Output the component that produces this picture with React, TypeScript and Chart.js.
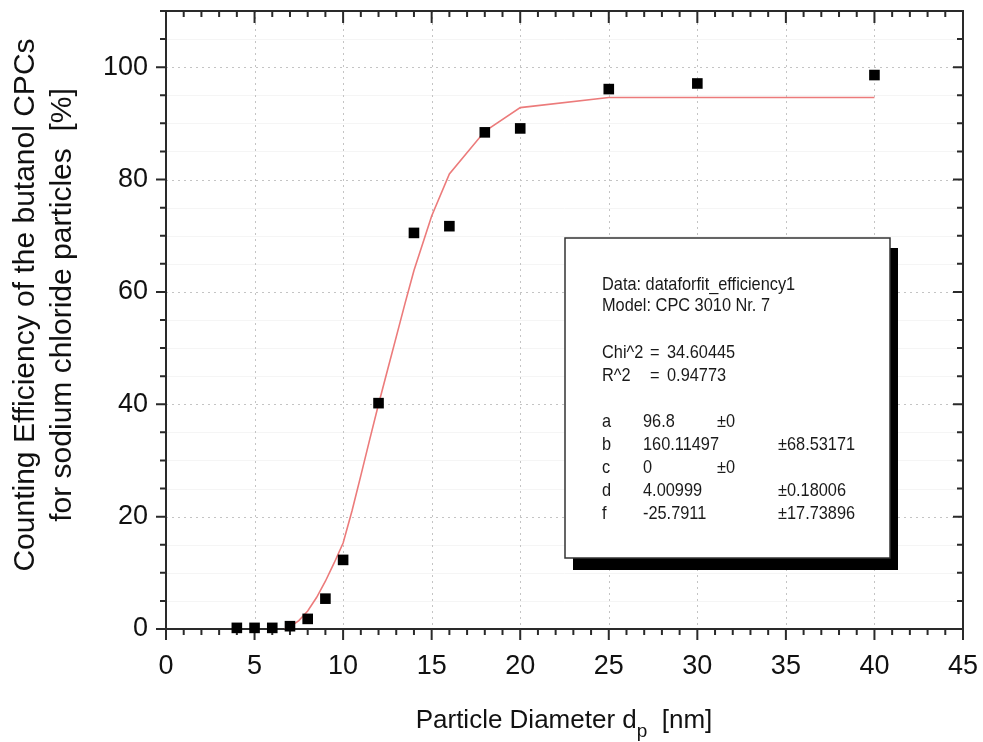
import React, { useEffect, useRef } from 'react';
import { Chart, registerables } from 'chart.js';
Chart.register(...registerables);

// measured data points (particle diameter in nm, counting efficiency in %)
const diameters = [4, 5, 6, 7, 8, 9, 10, 12, 14, 16, 18, 20, 25, 30, 40];
const efficiency = [0.2, 0.2, 0.2, 0.5, 1.8, 5.4, 12.3, 40.2, 70.5, 71.7, 88.4, 89.1, 96.1, 97.1, 98.6];

// fitted curve
const fitX = [6.7, 7, 7.5, 8, 8.5, 9, 9.5, 10, 10.5, 11, 11.5, 12, 12.5, 13, 13.5, 14, 15, 16, 18, 20, 25, 30, 40];
const fitY = [0, 0.4, 1.5, 3.2, 5.6, 8.5, 11.8, 15.3, 21, 27.3, 33.7, 40, 46, 52, 58, 63.8, 73.5, 81, 88.6, 92.8, 94.6, 94.6, 94.6];

// axis texts
const xTitleMain = 'Particle Diameter d';
const xTitleSub = 'p';
const xTitleUnit = '  [nm]';
const yTitleLines = ['Counting Efficiency of the butanol CPCs', 'for sodium chloride particles  [%]'];

// fit report
const fitHeader = ['Data: dataforfit_efficiency1', 'Model: CPC 3010 Nr. 7'];
const fitStatNames = ['Chi^2', 'R^2'];
const fitStatValues = ['34.60445', '0.94773'];
const paramNames = ['a', 'b', 'c', 'd', 'f'];
const paramValues = ['96.8', '160.11497', '0', '4.00999', '-25.7911'];
const paramErrors = ['±0', '±68.53171', '±0', '±0.18006', '±17.73896'];

const FONT = '"Liberation Sans", Arial, sans-serif';

const framePlugin = {
  id: 'originFrame',
  beforeDatasetsDraw(chart: any) {
    const { ctx, chartArea: a, scales } = chart;
    const xs = scales.x, ys = scales.y;
    ctx.save();
    // minor horizontal faint grid
    ctx.lineWidth = 1;
    for (let v = 5; v < 110; v += 5) {
      if (v % 20 === 0) continue;
      const y = Math.round(ys.getPixelForValue(v)) + 0.5;
      ctx.strokeStyle = '#f5f5f5';
      ctx.beginPath(); ctx.moveTo(a.left, y); ctx.lineTo(a.right, y); ctx.stroke();
    }
    // major dotted grid
    ctx.strokeStyle = '#c4c4c4';
    ctx.setLineDash([2, 4]);
    for (let v = 20; v <= 100; v += 20) {
      const y = Math.round(ys.getPixelForValue(v)) + 0.5;
      ctx.beginPath(); ctx.moveTo(a.left, y); ctx.lineTo(a.right, y); ctx.stroke();
    }
    for (let v = 5; v < 45; v += 5) {
      const x = Math.round(xs.getPixelForValue(v)) + 0.5;
      ctx.beginPath(); ctx.moveTo(x, a.top); ctx.lineTo(x, a.bottom); ctx.stroke();
    }
    ctx.setLineDash([]);

    // frame
    ctx.strokeStyle = '#2a2a2a';
    ctx.lineWidth = 2;
    ctx.strokeRect(a.left, a.top, a.right - a.left, a.bottom - a.top);

    // ticks
    for (let v = 0; v <= 45; v += 1) {
      const major = v % 5 === 0;
      const x = xs.getPixelForValue(v);
      ctx.beginPath();
      ctx.moveTo(x, a.bottom); ctx.lineTo(x, a.bottom + (major ? 11 : 6));
      ctx.moveTo(x, a.top); ctx.lineTo(x, a.top + (major ? 12 : 6));
      ctx.stroke();
    }
    for (let v = 0; v <= 110; v += 5) {
      const major = v % 20 === 0;
      const y = ys.getPixelForValue(v);
      ctx.beginPath();
      ctx.moveTo(a.left, y); ctx.lineTo(a.left - (major ? 10 : 6), y);
      ctx.moveTo(a.right, y); ctx.lineTo(a.right - (major ? 10 : 6), y);
      ctx.stroke();
    }
    ctx.restore();
  },
  afterDraw(chart: any) {
    const { ctx } = chart;
    ctx.save();
    ctx.fillStyle = '#111';

    // y title (rotated)
    ctx.font = `30px ${FONT}`;
    ctx.textAlign = 'center';
    ctx.textBaseline = 'alphabetic';
    const cy = 305;
    const baselines = [33.5, 71];
    yTitleLines.forEach((t, i) => {
      ctx.save();
      ctx.translate(baselines[i], cy);
      ctx.rotate(-Math.PI / 2);
      ctx.fillText(t, 0, 0);
      ctx.restore();
    });

    // x title with subscript
    ctx.textAlign = 'left';
    ctx.font = `26px ${FONT}`;
    const wMain = ctx.measureText(xTitleMain).width;
    ctx.font = `19px ${FONT}`;
    const wSub = ctx.measureText(xTitleSub).width;
    ctx.font = `26px ${FONT}`;
    const wUnit = ctx.measureText(xTitleUnit).width;
    const total = wMain + wSub + wUnit;
    const cx = 564;
    const x0 = cx - total / 2;
    const base = 728;
    ctx.fillText(xTitleMain, x0, base);
    ctx.font = `19px ${FONT}`;
    ctx.fillText(xTitleSub, x0 + wMain, base + 9);
    ctx.font = `26px ${FONT}`;
    ctx.fillText(xTitleUnit, x0 + wMain + wSub, base);

    // fit report box
    const bx = 565, by = 238, bw = 325, bh = 320;
    ctx.fillStyle = '#000';
    ctx.fillRect(bx + 8, by + 10, bw, bh + 2);
    ctx.fillStyle = '#fff';
    ctx.fillRect(bx, by, bw, bh);
    ctx.strokeStyle = '#333';
    ctx.lineWidth = 1.5;
    ctx.strokeRect(bx, by, bw, bh);

    ctx.fillStyle = '#1a1a1a';
    ctx.textBaseline = 'middle';
    const sx = 0.86;
    const txt = (s: string, x: number, y: number) => {
      ctx.save();
      ctx.translate(x, y);
      ctx.scale(sx, 1);
      ctx.fillText(s, 0, 0);
      ctx.restore();
    };
    ctx.font = `19px ${FONT}`;
    const col0 = 602;
    txt(fitHeader[0], col0, 285);
    txt(fitHeader[1], col0, 306);
    const statY = [353, 376];
    fitStatNames.forEach((n, i) => {
      txt(n, col0, statY[i]);
      txt('=', 650, statY[i]);
      txt(fitStatValues[i], 667, statY[i]);
    });
    paramNames.forEach((n, i) => {
      const y = 422 + i * 23;
      txt(n, col0, y);
      txt(paramValues[i], 643, y);
      const end = 643 + ctx.measureText(paramValues[i]).width * sx;
      const ex = end < 690 ? 717 : 778;
      txt(paramErrors[i], ex, y);
    });
    ctx.restore();
  },
};

export default function App() {
  const ref = useRef<HTMLCanvasElement | null>(null);
  useEffect(() => {
    if (!ref.current) return;
    const points = diameters.map((x, i) => ({ x, y: efficiency[i] }));
    const curve = fitX.map((x, i) => ({ x, y: fitY[i] }));
    const chart = new Chart(ref.current, {
      type: 'scatter',
      data: {
        datasets: [
          {
            type: 'line',
            data: curve,
            borderColor: '#ec7b7b',
            borderWidth: 1.6,
            pointRadius: 0,
            tension: 0,
            fill: false,
            order: 2,
          } as any,
          {
            data: points,
            pointStyle: 'rect',
            pointRadius: 7.5,
            backgroundColor: '#000',
            borderColor: '#000',
            borderWidth: 0,
            clip: false,
            order: 1,
          } as any,
        ],
      },
      options: {
        animation: false,
        responsive: false,
        maintainAspectRatio: false,
        layout: { padding: { left: 0, right: 20, top: 11, bottom: 0 }, autoPadding: false } as any,
        plugins: { legend: { display: false }, tooltip: { enabled: false } },
        scales: {
          x: {
            type: 'linear',
            min: 0,
            max: 45,
            ticks: { stepSize: 5, font: { family: FONT, size: 27 }, color: '#111', padding: 21, maxRotation: 0 },
            grid: { display: false, drawTicks: false },
            border: { display: false },
            afterFit: (s: any) => { s.height = 113; s.paddingLeft = 0; s.paddingRight = 0; },
          },
          y: {
            type: 'linear',
            min: 0,
            max: 110,
            ticks: { stepSize: 20, includeBounds: false, font: { family: FONT, size: 27 }, color: '#111', padding: 18 },
            grid: { display: false, drawTicks: false },
            border: { display: false },
            afterFit: (s: any) => { s.width = 166; s.paddingTop = 0; s.paddingBottom = 0; },
          },
        },
      },
      plugins: [framePlugin],
    });
    return () => chart.destroy();
  }, []);
  return (
    <div style={{ position: 'absolute', left: 0, top: 0, width: 983, height: 742, background: '#fff' }}>
      <canvas ref={ref} width={983} height={742} style={{ display: 'block' }} />
    </div>
  );
}
